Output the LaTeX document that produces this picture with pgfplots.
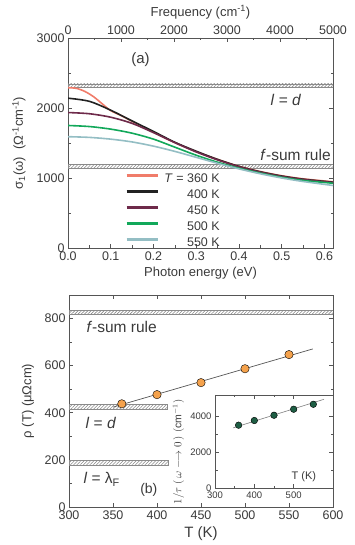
\documentclass[border=0pt]{standalone}
\usepackage{fontspec}
\setmainfont{Liberation Sans}
\usepackage{pgfplots}
\pgfplotsset{compat=1.18}
\usetikzlibrary{patterns.meta}
\definecolor{c360}{HTML}{F07C6A}
\definecolor{c400}{HTML}{222222}
\definecolor{c450}{HTML}{6E2A4A}
\definecolor{c500}{HTML}{12A85A}
\definecolor{c550}{HTML}{94BEC4}
\definecolor{orng}{HTML}{F5A24C}
\definecolor{dgreen}{HTML}{1E5E44}
\definecolor{axgray}{HTML}{555555}
\definecolor{txt}{HTML}{3A3A3A}
\definecolor{hatch}{HTML}{8A8A8A}
\tikzset{hbar/.style={draw=hatch, line width=0.6pt, pattern={Lines[angle=45, distance=2.3pt, line width=0.6pt]}, pattern color=hatch}}
\pgfplotsset{myax/.style={scale only axis,
  axis line style={axgray, line width=0.8pt},
  tick style={axgray, line width=0.6pt},
  major tick length=4pt, minor tick length=2.5pt, tick align=inside,
  tick label style={font=\fontsize{12.5}{14}\selectfont, text=txt},
  label style={font=\fontsize{13}{15}\selectfont, text=txt},
  /pgf/number format/assume math mode=true,
  /pgf/number format/1000 sep={}}}
\begin{document}
\begin{tikzpicture}[x=1pt,y=1pt]
\useasboundingbox (0,0) rectangle (354,545);
% ---------- top panel ----------
\begin{axis}[myax, at={(68pt,297pt)}, anchor=south west, width=265pt, height=210pt,
  xmin=0, xmax=0.62, ymin=0, ymax=3000,
  xtick={0,0.1,0.2,0.3,0.4,0.5,0.6}, minor x tick num=1, xtick pos=bottom,
  ytick={0,1000,2000,3000}, minor y tick num=1,
  xticklabel style={/pgf/number format/.cd, fixed, fixed zerofill, precision=1},
  xlabel={Photon energy (eV)},
  ylabel={σ\textsubscript{1}(ω)\ \ (Ω\textsuperscript{-1}cm\textsuperscript{-1})},
  ylabel style={at={(axis description cs:-0.185,0.5)}, anchor=center},
  legend style={at={(axis description cs:0.215,0.357)}, anchor=north west, draw=none, fill=none,
    inner sep=0pt, font=\fontsize{12.5}{14}\selectfont, text=txt,
    nodes={inner sep=0pt, text height=9pt, text depth=3pt}, row sep=4pt, column sep=5.5pt},
  legend cell align=left,
  legend image code/.code={\draw[#1, line width=2.8pt] (0pt,3.5pt) -- (31pt,3.5pt);}]
\draw[hbar] (axis cs:0,2295) rectangle (axis cs:0.62,2345);
\draw[hbar] (axis cs:0,1135) rectangle (axis cs:0.62,1195);
\addplot[c360, line width=1.6pt, smooth] coordinates {(0,2290) (0.02,2280) (0.04,2235) (0.06,2160) (0.08,2060) (0.1,1962) (0.125,1890) (0.15,1808) (0.2,1655) (0.25,1505) (0.3,1378) (0.35,1265) (0.4,1168) (0.45,1092) (0.5,1032) (0.55,988) (0.62,946)};
\addplot[c400, line width=1.6pt, smooth] coordinates {(0,2140) (0.05,2095) (0.1,1968) (0.15,1815) (0.2,1665) (0.25,1510) (0.3,1382) (0.35,1265) (0.4,1165) (0.45,1088) (0.5,1028) (0.55,983) (0.62,940)};
\addplot[c450, line width=1.6pt, smooth] coordinates {(0,1935) (0.05,1918) (0.1,1868) (0.15,1780) (0.2,1648) (0.25,1505) (0.3,1372) (0.35,1258) (0.4,1160) (0.45,1083) (0.5,1022) (0.55,978) (0.62,935)};
\addplot[c500, line width=1.6pt, smooth] coordinates {(0,1750) (0.05,1735) (0.1,1698) (0.15,1640) (0.2,1555) (0.25,1440) (0.3,1325) (0.35,1225) (0.4,1140) (0.45,1070) (0.5,1010) (0.55,965) (0.62,925)};
\addplot[c550, line width=1.6pt, smooth] coordinates {(0,1590) (0.05,1580) (0.1,1555) (0.15,1515) (0.2,1455) (0.25,1380) (0.3,1295) (0.35,1210) (0.4,1130) (0.45,1060) (0.5,1000) (0.55,950) (0.62,893)};
\legend{\textit{T} = 360 K, \phantom{\textit{T} = }400 K, \phantom{\textit{T} = }450 K, \phantom{\textit{T} = }500 K, \phantom{\textit{T} = }550 K}
\node[anchor=west, font=\fontsize{15}{17}\selectfont, text=txt] at (axis cs:0.140,2686) {(a)};
\node[anchor=west, font=\fontsize{15.5}{17}\selectfont, text=txt] at (axis cs:0.466,2114) {\textit{l} = \textit{d}};
\node[anchor=west, font=\fontsize{15.5}{17}\selectfont, text=txt] at (axis cs:0.442,1329) {\textit{f}-sum rule};
\end{axis}
\begin{axis}[myax, at={(68pt,297pt)}, anchor=south west, width=265pt, height=210pt,
  xmin=0, xmax=5000, ymin=0, ymax=1, axis x line*=top, hide y axis, tick align=inside,
  xtick={0,1000,2000,3000,4000,5000}, minor x tick num=1,
  xlabel={Frequency (cm\textsuperscript{-1})}]
\end{axis}
% ---------- bottom panel ----------
\begin{axis}[myax, at={(69pt,38pt)}, anchor=south west, width=264pt, height=212pt,
  xmin=300, xmax=600, ymin=0, ymax=900,
  xtick={300,350,400,450,500,550,600},
  ytick={0,200,400,600,800}, minor y tick num=1,
  xlabel={T (K)}, xlabel style={font=\fontsize{15}{17}\selectfont},
  ylabel={ρ (T) (μΩcm)},
  ylabel style={at={(axis description cs:-0.155,0.5)}, anchor=center}]
\draw[hbar] (axis cs:300,817) rectangle (axis cs:600,835);
\draw[hbar] (axis cs:300,416) rectangle (axis cs:411.5,434);
\draw[hbar] (axis cs:300,177) rectangle (axis cs:412.5,197);
\addplot[color=axgray, line width=0.7pt] coordinates {(350,424) (577,671)};
\addplot[only marks, mark=*, mark size=4.2pt, mark options={fill=orng, draw=none}] coordinates {(360,438) (400,477) (450,528) (500,587) (550,647)};
\node[anchor=west, font=\fontsize{15.5}{17}\selectfont, text=txt] at (axis cs:315.9,766) {\textit{f}-sum rule};
\node[anchor=west, font=\fontsize{15.5}{17}\selectfont, text=txt] at (axis cs:314.8,357) {\textit{l} = \textit{d}};
\node[anchor=west, font=\fontsize{15.5}{17}\selectfont, text=txt] at (axis cs:312.5,118) {\textit{l} = λ\textsubscript{F}};
\node[anchor=west, font=\fontsize{14}{16}\selectfont, text=txt] at (axis cs:377,72) {(b)};
\end{axis}
% ---------- inset ----------
\begin{axis}[myax, at={(215pt,56.7pt)}, anchor=south west, width=118pt, height=93.3pt,
  axis background/.style={fill=white},
  xmin=300, xmax=600, ymin=0, ymax=5200,
  xtick={300,400,500}, minor x tick num=1,
  ytick={0,2000,4000}, minor y tick num=1,
  tick label style={font=\fontsize{9.5}{11}\selectfont},
  ylabel={$1/\tau\ (\,\omega \longrightarrow 0\,)\ (\mathrm{cm}^{-1})$},
  ylabel style={font=\fontsize{10.5}{12}\selectfont, at={(axis description cs:-0.31,0.39)}, anchor=center}]
\addplot[color=gray, line width=0.6pt] coordinates {(346,3367) (577,4961)};
\addplot[only marks, mark=*, mark size=3.3pt, mark options={fill=dgreen, draw=none}] coordinates {(360,3517) (400,3778) (450,4072) (500,4406) (550,4683)};
\node[font=\fontsize{11}{13}\selectfont, text=txt] at (axis cs:526,644) {T (K)};
\end{axis}
\end{tikzpicture}
\end{document}
